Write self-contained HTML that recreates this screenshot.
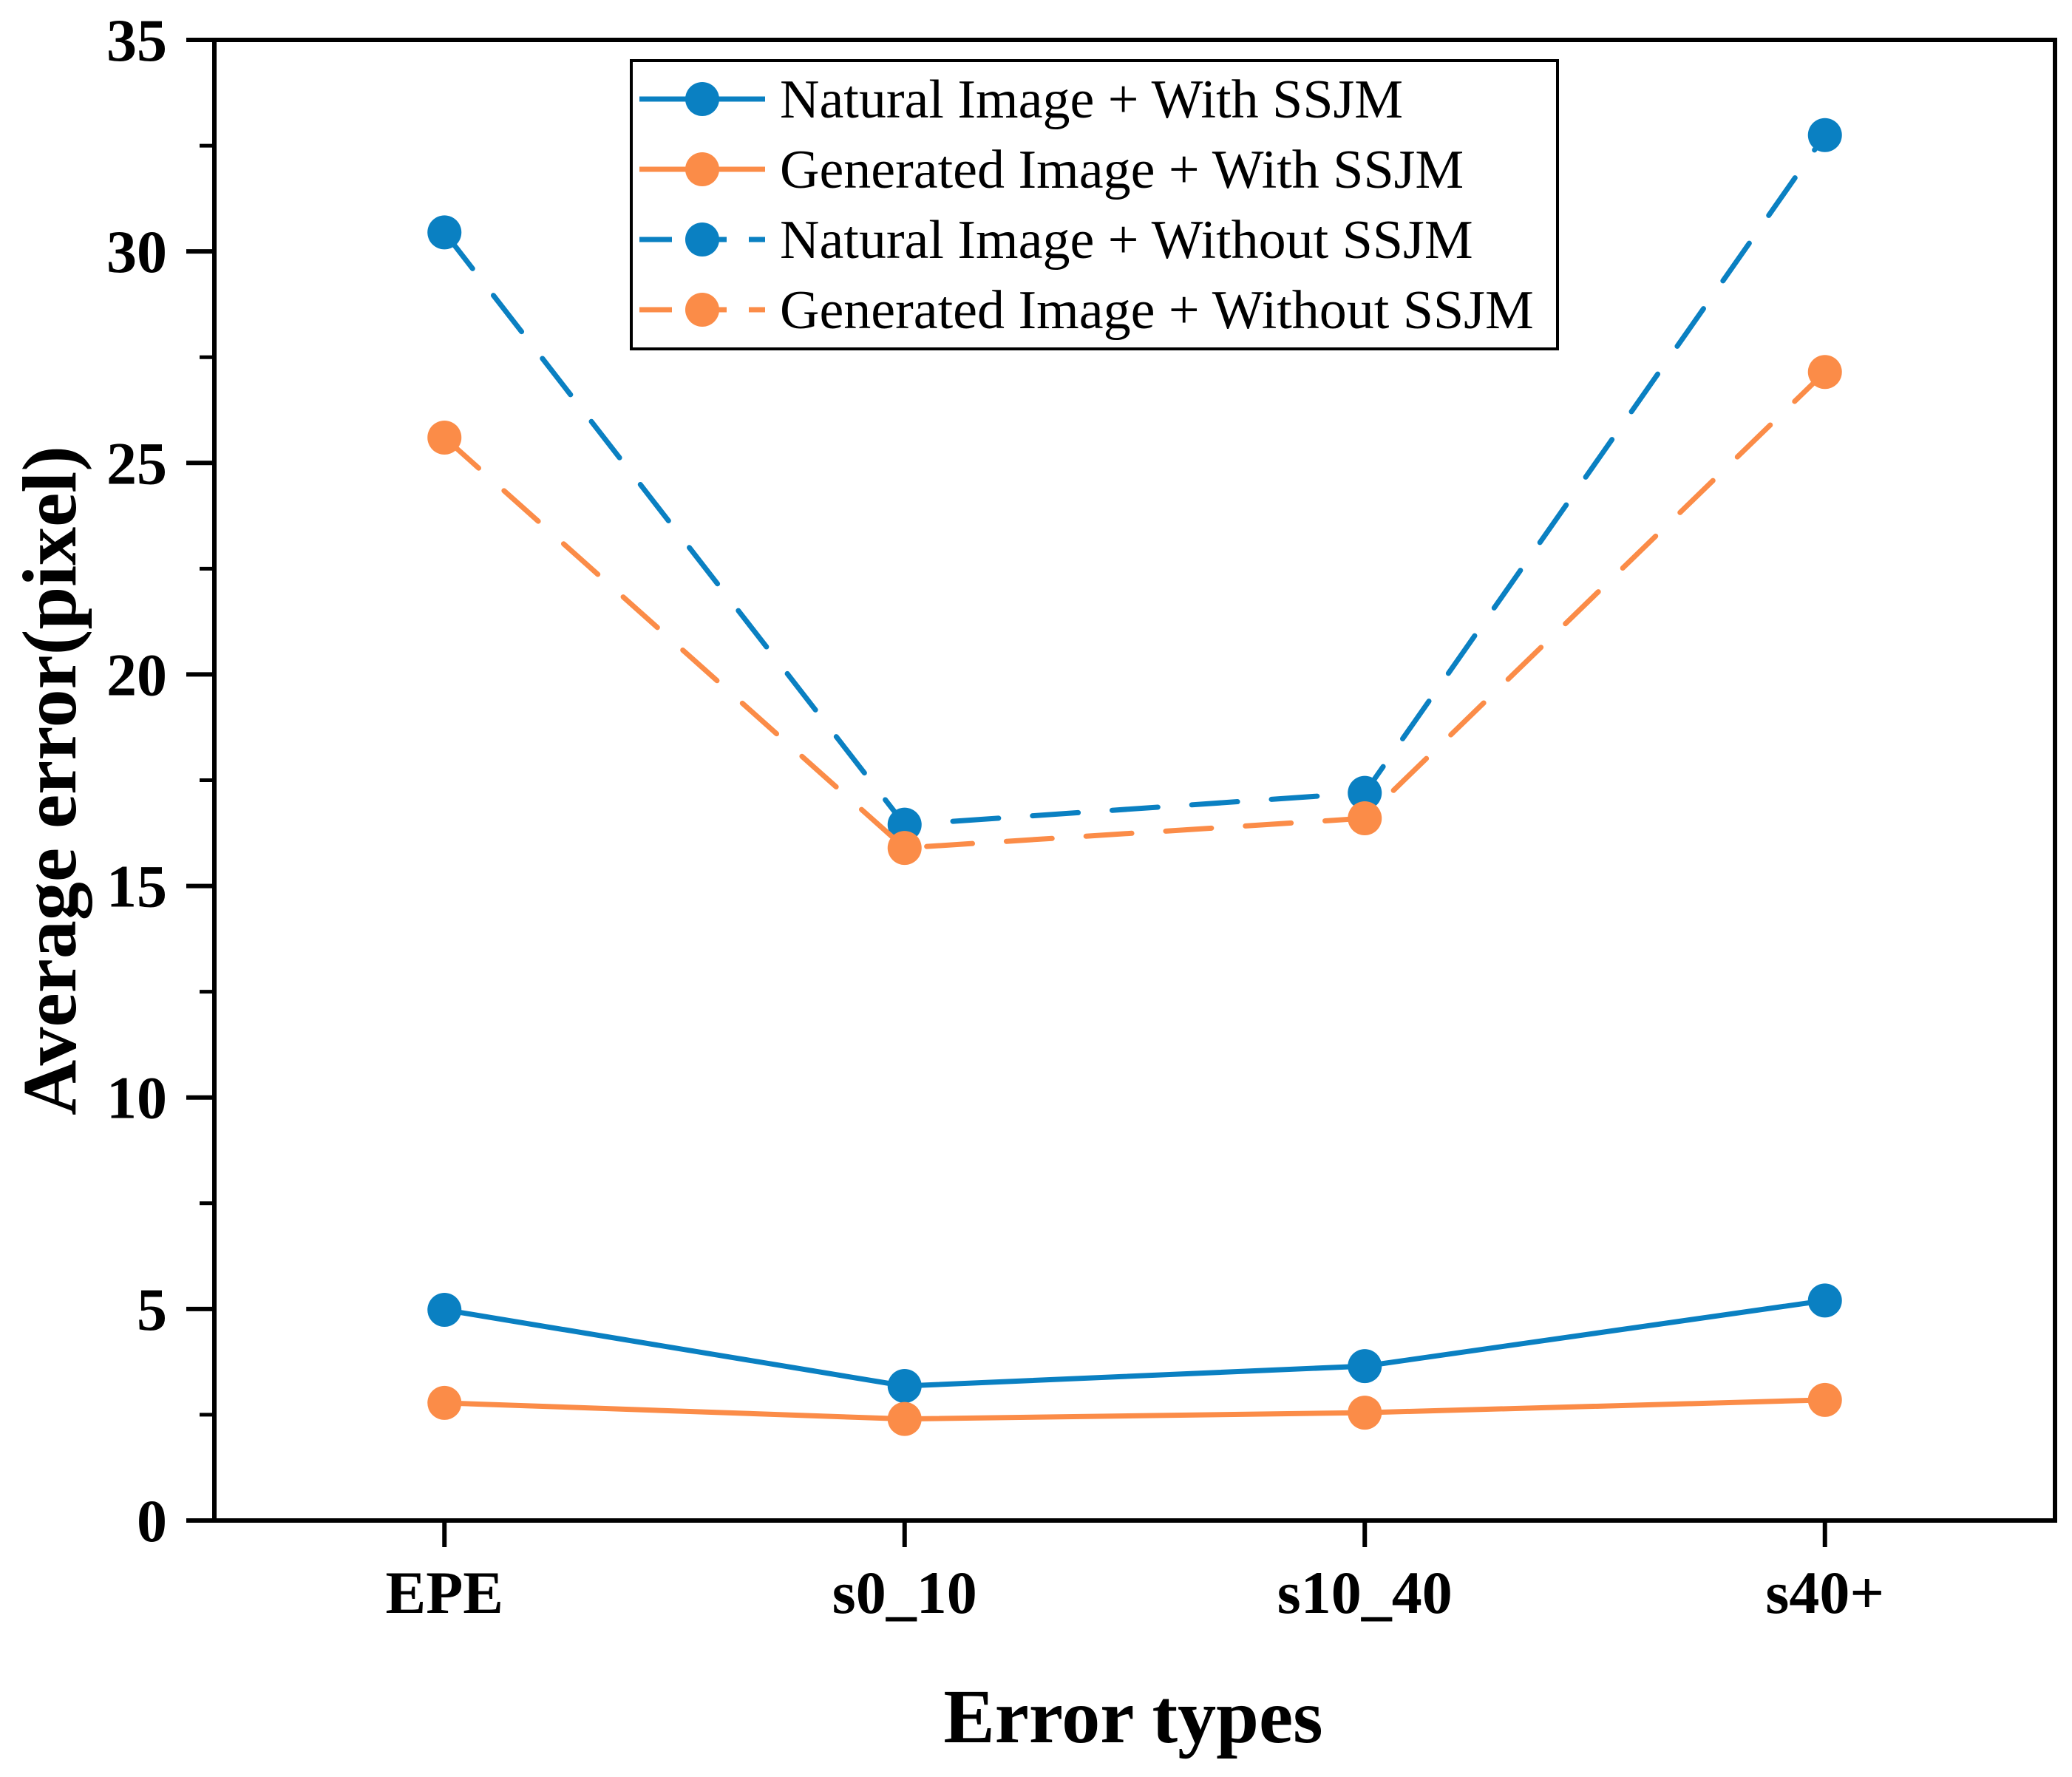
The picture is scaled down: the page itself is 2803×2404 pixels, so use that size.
<!DOCTYPE html>
<html><head><meta charset="utf-8"><style>
html,body{margin:0;padding:0;background:#fff;}
svg{display:block;font-family:"Liberation Serif","DejaVu Serif",serif;}
</style></head><body>
<svg id="chart" width="2803" height="2404" viewBox="0 0 2803 2404" xmlns="http://www.w3.org/2000/svg">
<rect x="0" y="0" width="2803" height="2404" fill="#fff"/>
<g id="plot"></g>
</svg>
<script>
const categories = ["EPE", "s0_10", "s10_40", "s40+"];
const naturalWith = [4.98, 3.18, 3.65, 5.2];
const generatedWith = [2.78, 2.4, 2.55, 2.85];
const naturalWithout = [30.45, 16.45, 17.2, 32.75];
const generatedWithout = [25.6, 15.9, 16.6, 27.15];
const yTicks = [0, 5, 10, 15, 20, 25, 30, 35];
const seriesNames = ["Natural Image + With SSJM", "Generated Image + With SSJM", "Natural Image + Without SSJM", "Generated Image + Without SSJM"];

const L = 290, R = 2780, T = 54, B = 2057;
const BLUE = "#0a80c2", ORANGE = "#fb8c48";
const NS = "http://www.w3.org/2000/svg";
const g = document.getElementById('plot');
function xS(i){ return L + (i + 0.5) / categories.length * (R - L); }
function yS(v){ return B - v / 35 * (B - T); }
function mk(tag, attrs, parent){
  const e = document.createElementNS(NS, tag);
  for (const k in attrs) e.setAttribute(k, attrs[k]);
  (parent || g).appendChild(e);
  return e;
}

const frame = mk('rect', {x:L, y:T, width:R-L, height:B-T, fill:'none', stroke:'#000', 'stroke-width':6});



yTicks.forEach(v => {
  const y = yS(v);
  const t = mk('line', {x1:L-38, x2:L, y1:y, y2:y, stroke:'#000', 'stroke-width':6});
  
  
  const lb = mk('text', {x:L-64, y:y+28, 'text-anchor':'end', 'font-size':82, 'font-weight':'bold'});
  lb.textContent = v;
  
  
  if (v < 35) {
    const m = mk('line', {x1:L-20, x2:L, y1:yS(v+2.5), y2:yS(v+2.5), stroke:'#000', 'stroke-width':5});
    
    
  }
});

categories.forEach((c, i) => {
  const x = xS(i);
  const t = mk('line', {x1:x, x2:x, y1:B, y2:B+36, stroke:'#000', 'stroke-width':6});
  
  
  const lb = mk('text', {x:x, y:2182, 'text-anchor':'middle', 'font-size':82, 'font-weight':'bold'});
  lb.textContent = c;
  
  
});

const xt = mk('text', {x:1533, y:2357, 'text-anchor':'middle', 'font-size':104, 'font-weight':'bold'});
xt.textContent = 'Error types';


const yt = mk('text', {x:0, y:0, 'text-anchor':'middle', 'font-size':104, 'font-weight':'bold', transform:'translate(102,1056) rotate(-90)'});
yt.textContent = 'Average error(pixel)';



const series = [
  {vals: naturalWith, color: BLUE, dash: null, name: 'series-natural-with-ssjm'},
  {vals: generatedWith, color: ORANGE, dash: null, name: 'series-generated-with-ssjm'},
  {vals: naturalWithout, color: BLUE, dash: '62 46', name: 'series-natural-without-ssjm'},
  {vals: generatedWithout, color: ORANGE, dash: '62 46', name: 'series-generated-without-ssjm'}
];
series.forEach(s => {
  const pts = s.vals.map((v, i) => xS(i) + ',' + yS(v)).join(' ');
  const attrs = {points: pts, fill:'none', stroke:s.color, 'stroke-width':7, 'stroke-linecap':'round'};
  if (s.dash) attrs['stroke-dasharray'] = s.dash;
  const pl = mk('polyline', attrs);
  
  
  s.vals.forEach((v, i) => {
    const c = mk('circle', {cx:xS(i), cy:yS(v), r:23, fill:s.color});
    
    
  });
});

const lg = mk('g', {});


const box = mk('rect', {x:854, y:82, width:1253, height:390, fill:'#fff', stroke:'#000', 'stroke-width':4}, lg);


series.forEach((s, k) => {
  const y = 134 + k * 95;
  const ent = mk('g', {}, lg);
  
  
  const la = {x1:865, x2:1035, y1:y, y2:y, stroke:s.color, 'stroke-width':7};
  if (s.dash) la['stroke-dasharray'] = '44 30';
  mk('line', la, ent);
  mk('circle', {cx:950, cy:y, r:23, fill:s.color}, ent);
  const tx = mk('text', {x:1055, y:y+25, 'font-size':74}, ent);
  tx.textContent = seriesNames[k];
});
</script>
</body></html>
